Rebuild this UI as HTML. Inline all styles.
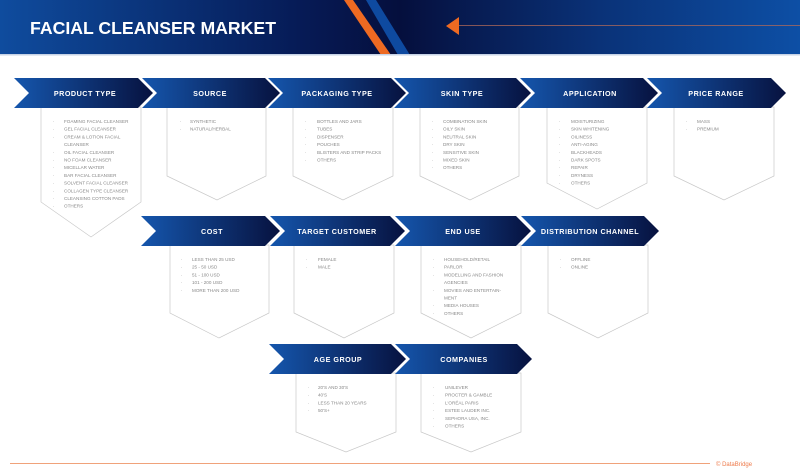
<!DOCTYPE html>
<html><head><meta charset="utf-8"><style>
html,body{margin:0;padding:0;background:#fff;}
svg{display:block;font-family:"Liberation Sans",sans-serif;}
.h{font-weight:bold;font-size:7.2px;fill:#fff;letter-spacing:0.5px;text-anchor:middle;}
.t{font-size:4.6px;fill:#888;}
.box{fill:#fff;stroke:#c8c8c8;stroke-width:0.7;}
</style></head><body>
<svg width="800" height="473" viewBox="0 0 800 473" xmlns="http://www.w3.org/2000/svg">
<defs>
<linearGradient id="hd" x1="0" x2="1" y1="0" y2="0">
<stop offset="0" stop-color="#0f4c9e"/><stop offset="0.38" stop-color="#061a55"/><stop offset="0.5" stop-color="#050f3d"/><stop offset="0.75" stop-color="#0a3278"/><stop offset="1" stop-color="#0d4fa5"/></linearGradient>
<linearGradient id="ar" x1="0" x2="1" y1="0" y2="0">
<stop offset="0" stop-color="#1556ad"/><stop offset="1" stop-color="#07123f"/></linearGradient>
</defs>
<rect x="0" y="0" width="800" height="55" fill="url(#hd)"/>
<polygon points="366,0 376,0 410,55 398,55" fill="#0e4aa0"/>
<polygon points="344,0 353,0 391,55 381,55" fill="#ee6a22"/>
<rect x="0" y="54" width="800" height="1.5" fill="#c7d3e6"/>
<text x="30" y="34" font-size="17.6" font-weight="bold" fill="#fff" textLength="246" lengthAdjust="spacingAndGlyphs">FACIAL CLEANSER MARKET</text>
<polygon points="446,26 459,17 459,35" fill="#ee6a22"/>
<line x1="459" y1="25.5" x2="800" y2="25.5" stroke="#b06a5a" stroke-width="0.8"/>

<g>
<polygon class="box" points="41,107 141,107 141,202 91,237 41,202"/>
<polygon class="box" points="167,107 266,107 266,176 217,200 167,176"/>
<polygon class="box" points="293,107 393,107 393,176 343,200 293,176"/>
<polygon class="box" points="420,107 519,107 519,176 470,200 420,176"/>
<polygon class="box" points="547,107 647,107 647,183 597,209 547,183"/>
<polygon class="box" points="674,107 774,107 774,176 724,200 674,176"/>
<polygon class="box" points="170,245 269,245 269,313 219,338 170,313"/>
<polygon class="box" points="294,245 394,245 394,313 344,338 294,313"/>
<polygon class="box" points="421,245 521,245 521,313 471,338 421,313"/>
<polygon class="box" points="548,245 648,245 648,313 598,338 548,313"/>
<polygon class="box" points="296,373 396,373 396,432 346,452 296,432"/>
<polygon class="box" points="421,373 521,373 521,432 471,452 421,432"/>
</g>

<g fill="url(#ar)">
<polygon points="14,78 138,78 153,93 138,108 14,108 29,93"/>
<polygon points="142,78 265,78 280,93 265,108 142,108 157,93"/>
<polygon points="268,78 391,78 406,93 391,108 268,108 283,93"/>
<polygon points="394,78 516,78 531,93 516,108 394,108 409,93"/>
<polygon points="520,78 643,78 658,93 643,108 520,108 535,93"/>
<polygon points="647,78 771,78 786,93 771,108 647,108 662,93"/>
<polygon points="141,216 265,216 280,231 265,246 141,246 156,231"/>
<polygon points="270,216 390,216 405,231 390,246 270,246 285,231"/>
<polygon points="395,216 516,216 531,231 516,246 395,246 410,231"/>
<polygon points="521,216 644,216 659,231 644,246 521,246 536,231"/>
<polygon points="269,344 391,344 406,359 391,374 269,374 284,359"/>
<polygon points="395,344 517,344 532,359 517,374 395,374 410,359"/>
</g>
<text class="h" x="85" y="96">PRODUCT TYPE</text>
<text class="h" x="210" y="96">SOURCE</text>
<text class="h" x="337" y="96">PACKAGING TYPE</text>
<text class="h" x="462" y="96">SKIN TYPE</text>
<text class="h" x="590" y="96">APPLICATION</text>
<text class="h" x="716" y="96">PRICE RANGE</text>
<text class="h" x="212" y="234">COST</text>
<text class="h" x="337" y="234">TARGET CUSTOMER</text>
<text class="h" x="463" y="234">END USE</text>
<text class="h" x="590" y="234">DISTRIBUTION CHANNEL</text>
<text class="h" x="338" y="362">AGE GROUP</text>
<text class="h" x="464" y="362">COMPANIES</text>

<g class="t">
<text x="53" y="123">·</text><text x="64" y="123">FOAMING FACIAL CLEANSER</text>
<text x="53" y="130.7">·</text><text x="64" y="130.7">GEL FACIAL CLEANSER</text>
<text x="53" y="138.4">·</text><text x="64" y="138.4">CREAM &amp; LOTION FACIAL</text>
<text x="64" y="146.1">CLEANSER</text>
<text x="53" y="153.8">·</text><text x="64" y="153.8">OIL FACIAL CLEANSER</text>
<text x="53" y="161.5">·</text><text x="64" y="161.5">NO FOAM CLEANSER</text>
<text x="53" y="169.2">·</text><text x="64" y="169.2">MICELLAR WATER</text>
<text x="53" y="176.9">·</text><text x="64" y="176.9">BAR FACIAL CLEANSER</text>
<text x="53" y="184.6">·</text><text x="64" y="184.6">SOLVENT FACIAL CLEANSER</text>
<text x="53" y="192.3">·</text><text x="64" y="192.3">COLLAGEN TYPE CLEANSER</text>
<text x="53" y="200">·</text><text x="64" y="200">CLEANSING COTTON PADS</text>
<text x="53" y="207.7">·</text><text x="64" y="207.7">OTHERS</text>

<text x="180" y="123">·</text><text x="190" y="123">SYNTHETIC</text>
<text x="180" y="130.7">·</text><text x="190" y="130.7">NATURAL/HERBAL</text>

<text x="305" y="123">·</text><text x="317" y="123">BOTTLES AND JARS</text>
<text x="305" y="130.7">·</text><text x="317" y="130.7">TUBES</text>
<text x="305" y="138.4">·</text><text x="317" y="138.4">DISPENSER</text>
<text x="305" y="146.1">·</text><text x="317" y="146.1">POUCHES</text>
<text x="305" y="153.8">·</text><text x="317" y="153.8">BLISTERS AND STRIP PACKS</text>
<text x="305" y="161.5">·</text><text x="317" y="161.5">OTHERS</text>

<text x="432" y="123">·</text><text x="443" y="123">COMBINATION SKIN</text>
<text x="432" y="130.7">·</text><text x="443" y="130.7">OILY SKIN</text>
<text x="432" y="138.4">·</text><text x="443" y="138.4">NEUTRAL SKIN</text>
<text x="432" y="146.1">·</text><text x="443" y="146.1">DRY SKIN</text>
<text x="432" y="153.8">·</text><text x="443" y="153.8">SENSITIVE SKIN</text>
<text x="432" y="161.5">·</text><text x="443" y="161.5">MIXED SKIN</text>
<text x="432" y="169.2">·</text><text x="443" y="169.2">OTHERS</text>

<text x="559" y="123">·</text><text x="571" y="123">MOISTURIZING</text>
<text x="559" y="130.7">·</text><text x="571" y="130.7">SKIN WHITENING</text>
<text x="559" y="138.4">·</text><text x="571" y="138.4">OILINESS</text>
<text x="559" y="146.1">·</text><text x="571" y="146.1">ANTI-AGING</text>
<text x="559" y="153.8">·</text><text x="571" y="153.8">BLACKHEADS</text>
<text x="559" y="161.5">·</text><text x="571" y="161.5">DARK SPOTS</text>
<text x="559" y="169.2">·</text><text x="571" y="169.2">REPAIR</text>
<text x="559" y="176.9">·</text><text x="571" y="176.9">DRYNESS</text>
<text x="559" y="184.6">·</text><text x="571" y="184.6">OTHERS</text>

<text x="686" y="123">·</text><text x="697" y="123">MASS</text>
<text x="686" y="130.7">·</text><text x="697" y="130.7">PREMIUM</text>

<text x="181" y="261">·</text><text x="192" y="261">LESS THAN 25 USD</text>
<text x="181" y="268.7">·</text><text x="192" y="268.7">25 - 50 USD</text>
<text x="181" y="276.4">·</text><text x="192" y="276.4">51 - 100 USD</text>
<text x="181" y="284.1">·</text><text x="192" y="284.1">101 - 200 USD</text>
<text x="181" y="291.8">·</text><text x="192" y="291.8">MORE THAN 200 USD</text>

<text x="306" y="261">·</text><text x="318" y="261">FEMALE</text>
<text x="306" y="268.7">·</text><text x="318" y="268.7">MALE</text>

<text x="433" y="261">·</text><text x="444" y="261">HOUSEHOLD/RETAIL</text>
<text x="433" y="268.7">·</text><text x="444" y="268.7">PARLOR</text>
<text x="433" y="276.4">·</text><text x="444" y="276.4">MODELLING AND FASHION</text>
<text x="444" y="284.1">AGENCIES</text>
<text x="433" y="291.8">·</text><text x="444" y="291.8">MOVIES AND ENTERTAIN-</text>
<text x="444" y="299.5">MENT</text>
<text x="433" y="307.2">·</text><text x="444" y="307.2">MEDIA HOUSES</text>
<text x="433" y="314.9">·</text><text x="444" y="314.9">OTHERS</text>

<text x="560" y="261">·</text><text x="571" y="261">OFFLINE</text>
<text x="560" y="268.7">·</text><text x="571" y="268.7">ONLINE</text>

<text x="308" y="389">·</text><text x="318" y="389">20'S AND 30'S</text>
<text x="308" y="396.7">·</text><text x="318" y="396.7">40'S</text>
<text x="308" y="404.4">·</text><text x="318" y="404.4">LESS THAN 20 YEARS</text>
<text x="308" y="412.1">·</text><text x="318" y="412.1">50'S+</text>

<text x="433" y="389">·</text><text x="445" y="389">UNILEVER</text>
<text x="433" y="396.7">·</text><text x="445" y="396.7">PROCTER &amp; GAMBLE</text>
<text x="433" y="404.4">·</text><text x="445" y="404.4">L'ORÉAL PARIS</text>
<text x="433" y="412.1">·</text><text x="445" y="412.1">ESTEE LAUDER INC.</text>
<text x="433" y="419.8">·</text><text x="445" y="419.8">SEPHORA USA, INC.</text>
<text x="433" y="427.5">·</text><text x="445" y="427.5">OTHERS</text>
</g>

<line x1="10" y1="463.5" x2="710" y2="463.5" stroke="#f0a27a" stroke-width="0.9"/>
<text x="716" y="466" font-size="6" fill="#ee7a4a">© DataBridge</text>
</svg>
</body></html>
